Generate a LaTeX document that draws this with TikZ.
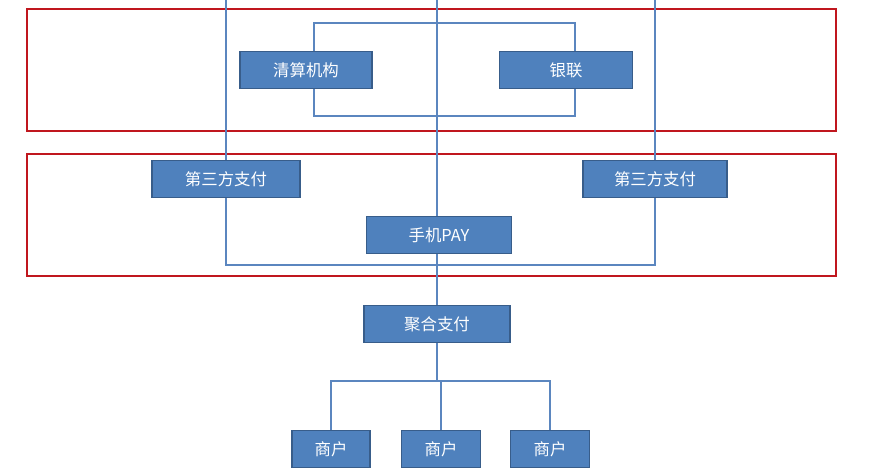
\documentclass[tikz,border=0pt]{standalone}
\usepackage{fontspec}
\setmainfont{Noto Sans CJK SC}
\usetikzlibrary{positioning}
\definecolor{boxblue}{HTML}{4F81BD}
\definecolor{boxedge}{HTML}{385D8A}
\definecolor{linkblue}{HTML}{5B86BF}
\definecolor{frame}{HTML}{C0171E}
\begin{document}
\begin{tikzpicture}[x=0.03cm,y=-0.03cm,
  k/.style={rectangle,draw=boxedge,fill=boxblue,line width=1pt,text=white,font=\fontsize{14}{16}\selectfont,minimum height=1.1cm,inner sep=0pt},
  link/.style={draw=linkblue,line width=1pt},
  zone/.style={draw=frame,line width=1.2pt}]
  \useasboundingbox (0,0) rectangle (870,472);
  \draw[zone] (27,9) rectangle (836,131);
  \draw[zone] (27,154) rectangle (836,276);

  \coordinate (tl) at (226,0);
  \coordinate (tm) at (437,0);
  \coordinate (tr) at (655,0);
  \coordinate (cl) at (314,23);
  \coordinate (cr) at (575,116);
  \coordinate (bl) at (226,265);
  \coordinate (br) at (655,265);
  \coordinate (jm) at (437,381);

  % links behind boxes
  \draw[link] (cl) rectangle (cr);
  \draw[link] (tl) -- (bl) -- (br) -- (tr);
  \draw[link] (tm) -- (437,306);

  \node[k,minimum width=3.96cm] (qs) at (306,70) {清算机构};
  \node[k,minimum width=3.99cm] (yl) at (566,70) {银联};
  \node[k,minimum width=4.44cm] (dl) at (226,179) {第三方支付};
  \node[k,minimum width=4.32cm] (dr) at (655,179) {第三方支付};
  \node[k,minimum width=4.35cm] (pay) at (439,235) {手机PAY};
  \node[k,minimum width=4.38cm] (jh) at (437,324) {聚合支付};
  \node[k,minimum width=2.34cm] (m1) at (331,449) {商户};
  \node[k,minimum width=2.37cm] (m2) at (441,449) {商户};
  \node[k,minimum width=2.37cm] (m3) at (550,449) {商户};

  \draw[link] (jh.south) -- (jm);
  \draw[link] (m1.north) |- (jm) -| (m3.north);
  \draw[link] (m2.north) -- (m2.north |- jm);
\end{tikzpicture}
\end{document}
